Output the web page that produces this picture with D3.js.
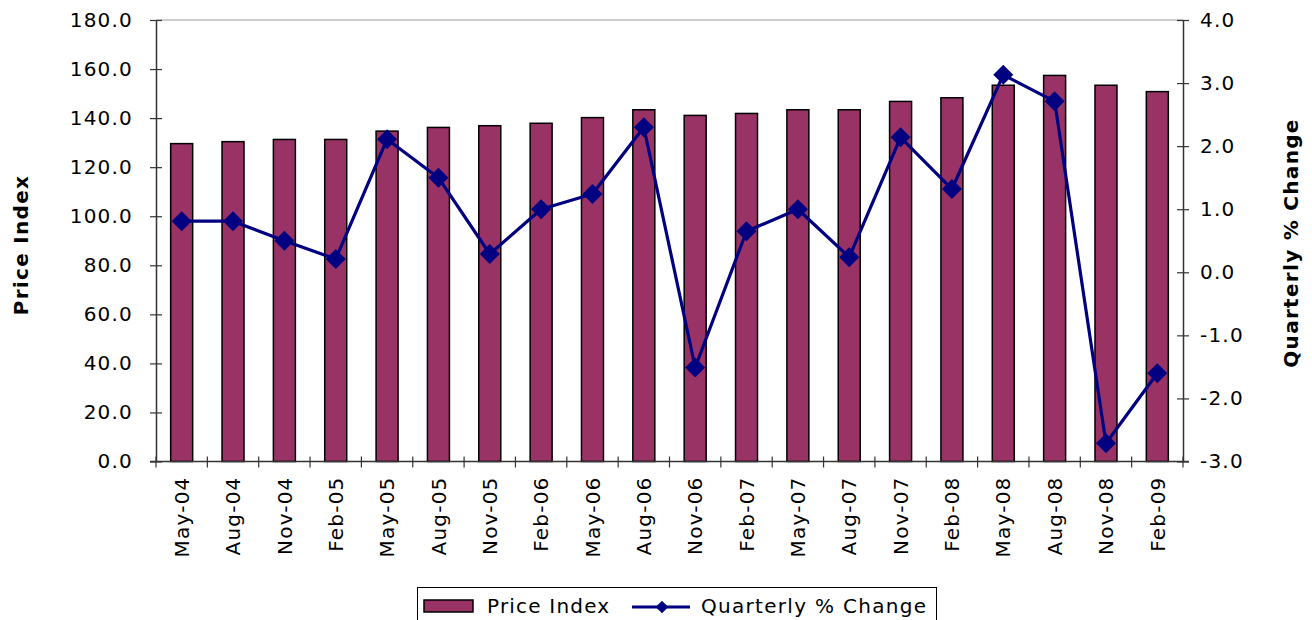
<!DOCTYPE html>
<html><head><meta charset="utf-8">
<script src="https://cdn.jsdelivr.net/npm/d3@7"></script>
<style>body{margin:0;background:#fff}svg{display:block}</style>
</head><body>
<script>
const categories = ["May-04","Aug-04","Nov-04","Feb-05","May-05","Aug-05","Nov-05","Feb-06","May-06","Aug-06","Nov-06","Feb-07","May-07","Aug-07","Nov-07","Feb-08","May-08","Aug-08","Nov-08","Feb-09"];
const priceIndex = [129.6,130.4,131.3,131.3,134.7,136.2,136.9,137.9,140.2,143.4,141.1,141.9,143.4,143.4,146.8,148.3,153.4,157.4,153.4,150.8];
const quarterlyChange = [0.81,0.81,0.50,0.21,2.11,1.50,0.29,1.00,1.24,2.30,-1.51,0.65,1.00,0.24,2.14,1.32,3.13,2.71,-2.71,-1.60];
const leftTicks = [0,20,40,60,80,100,120,140,160,180];
const rightTicks = [-3,-2,-1,0,1,2,3,4];

const W = 1312, H = 620;
const m = {left:156, right:1183, top:20, bottom:461.5};
const font = "'DejaVu Sans', Verdana, sans-serif";
const fmt = d => d.toFixed(1);

const svg = d3.select("body").append("svg").attr("width",W).attr("height",H);

const xb = d3.scaleBand().domain(categories).range([m.left,m.right]);
const yL = d3.scaleLinear().domain([0,180]).range([m.bottom,m.top]);
const yR = d3.scaleLinear().domain([-3,4]).range([m.bottom,m.top]);
const cx = i => xb(categories[i]) + xb.bandwidth()/2;

// top border
svg.append("line").attr("x1",m.left).attr("x2",m.right).attr("y1",m.top).attr("y2",m.top)
  .attr("stroke","#999").attr("stroke-width",1.2);

// bars
svg.append("g").selectAll("rect").data(priceIndex).join("rect")
  .attr("x",(d,i)=>cx(i) - 11)
  .attr("width",22)
  .attr("y",d=>yL(d)).attr("height",d=>m.bottom-yL(d))
  .attr("fill","#993366").attr("stroke","#000").attr("stroke-width",1.5);

// left axis
const gL = svg.append("g").attr("transform",`translate(${m.left},0)`)
  .call(d3.axisLeft(yL).tickValues(leftTicks).tickFormat(fmt).tickSizeInner(6).tickSizeOuter(0).tickPadding(17));
gL.selectAll(".tick line").attr("x2",6).attr("x1",-6);
// right axis
const gR = svg.append("g").attr("transform",`translate(${m.right},0)`)
  .call(d3.axisRight(yR).tickValues(rightTicks).tickFormat(fmt).tickSizeInner(6).tickSizeOuter(0).tickPadding(11));
gR.selectAll(".tick line").attr("x1",-6).attr("x2",6);
// x axis
const gX = svg.append("g").attr("transform",`translate(0,${m.bottom})`)
  .call(d3.axisBottom(xb).tickSize(0).tickPadding(0));
gX.select(".domain").attr("d",`M${m.left-6},0H${m.right+6}`);
gX.selectAll(".tick text").attr("transform","rotate(-90)").attr("text-anchor","end")
  .attr("x",-15).attr("y",0).attr("dy","0.36em");
// boundary ticks
svg.append("g").selectAll("line").data(d3.range(categories.length+1)).join("line")
  .attr("x1",i=>m.left+i*xb.step()).attr("x2",i=>m.left+i*xb.step())
  .attr("y1",m.bottom-5).attr("y2",m.bottom+6).attr("stroke","#333").attr("stroke-width",1.2);

[gL,gR,gX].forEach(g=>{
  g.select(".domain").attr("stroke","#333").attr("stroke-width",1.5);
  g.selectAll(".tick line").attr("stroke","#333").attr("stroke-width",1.2);
  g.selectAll("text").attr("font-family",font).attr("font-size",20).attr("fill","#000").attr("letter-spacing","1.2px");
});
gL.selectAll(".tick text").attr("text-anchor","end");

// line
const line = d3.line().x((d,i)=>cx(i)).y(d=>yR(d));
svg.append("path").datum(quarterlyChange).attr("d",line).attr("fill","none")
  .attr("stroke","#000080").attr("stroke-width",3.2).attr("stroke-linejoin","round");
svg.append("g").selectAll("path").data(quarterlyChange).join("path")
  .attr("transform",(d,i)=>`translate(${cx(i)},${yR(d)}) rotate(45)`)
  .attr("d",d3.symbol().type(d3.symbolSquare).size(200)).attr("fill","#000080");

// axis titles
svg.append("text").attr("transform","translate(28,245) rotate(-90)").attr("text-anchor","middle")
  .attr("font-family",font).attr("font-weight","bold").attr("font-size",20).attr("letter-spacing","1.3px").text("Price Index");
svg.append("text").attr("transform","translate(1298,243) rotate(-90)").attr("text-anchor","middle")
  .attr("font-family",font).attr("font-weight","bold").attr("font-size",20).attr("letter-spacing","1.3px").text("Quarterly % Change");

// legend
const lg = svg.append("g");
lg.append("rect").attr("x",417.5).attr("y",587.5).attr("width",519).attr("height",40)
  .attr("fill","#fff").attr("stroke","#000").attr("stroke-width",1);
lg.append("rect").attr("x",424).attr("y",600).attr("width",49).attr("height",12)
  .attr("fill","#993366").attr("stroke","#000").attr("stroke-width",1.5);
lg.append("text").attr("x",487).attr("y",613).attr("font-family",font).attr("font-size",20).attr("letter-spacing","1.2px").text("Price Index");
lg.append("line").attr("x1",632).attr("x2",690).attr("y1",607).attr("y2",607).attr("stroke","#000080").attr("stroke-width",3);
lg.append("path").attr("transform","translate(662,607) rotate(45)").attr("d",d3.symbol().type(d3.symbolSquare).size(80)).attr("fill","#000080");
lg.append("text").attr("x",701).attr("y",613).attr("font-family",font).attr("font-size",20).attr("letter-spacing","1.3px").text("Quarterly % Change");
</script>
</body></html>
